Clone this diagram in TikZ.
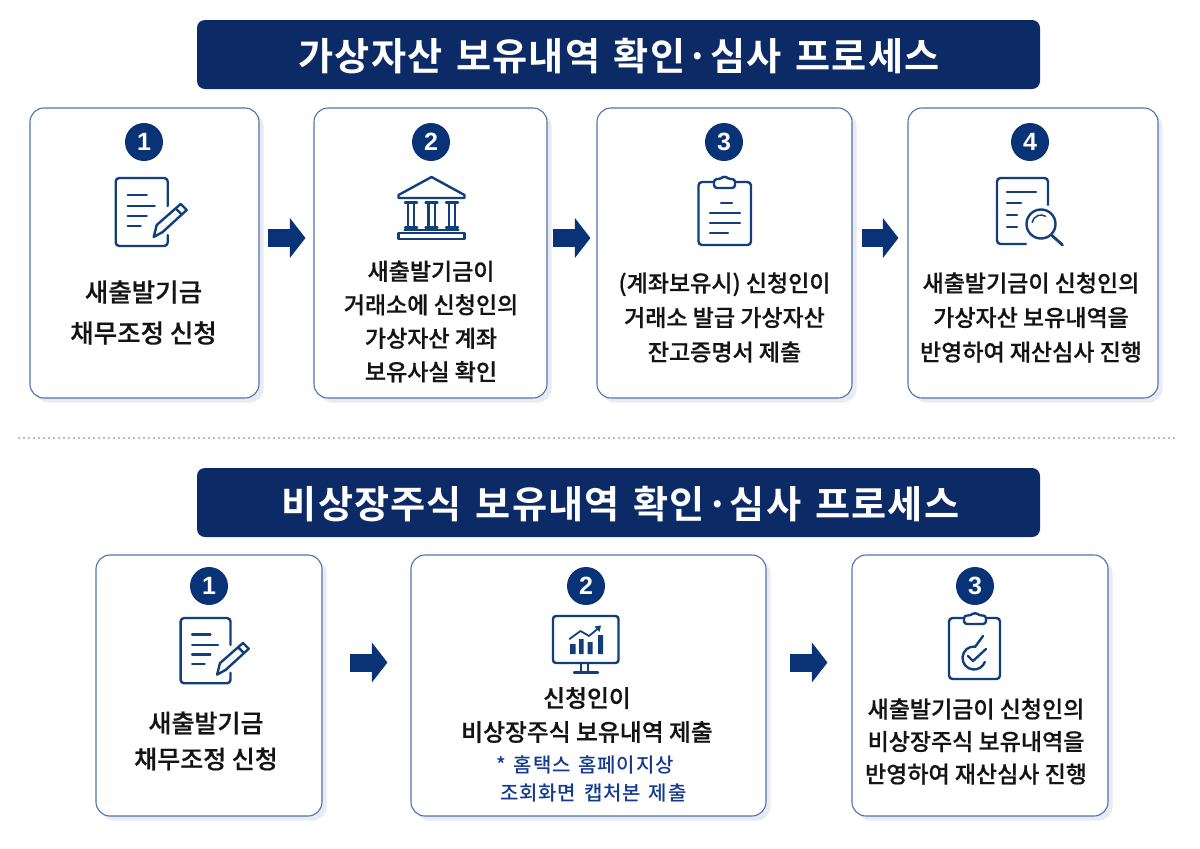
\documentclass[tikz,border=0pt]{standalone}
\usepackage{fontspec}
\setmainfont{Noto Sans CJK KR}
\newfontfamily\medf[FakeBold=0.5]{Noto Sans CJK KR Medium}
\newfontfamily\notef[LetterSpace=4,WordSpace=1.5]{Noto Sans CJK KR Medium}
\newfontfamily\titf[LetterSpace=3,WordSpace=1.4]{Noto Sans CJK KR Bold}
\newfontfamily\numf{Liberation Sans}
\usetikzlibrary{shadows,arrows.meta,calc}
\definecolor{navy}{HTML}{0B2A66}
\definecolor{circ}{HTML}{0A3277}
\definecolor{edgeb}{HTML}{4F72B4}
\definecolor{shad}{HTML}{E9EBF1}
\definecolor{icon}{HTML}{123F7C}
\definecolor{bluet}{HTML}{14398F}
\definecolor{inkt}{HTML}{141414}
\definecolor{sepc}{HTML}{B9BCC2}
\tikzset{
  x=1pt,y=-1pt,
  card/.style={draw=edgeb,line width=1.1pt,fill=white,rounded corners=14pt,inner sep=0pt,
    drop shadow={shadow xshift=4.5pt,shadow yshift=-4.5pt,fill=shad,opacity=1}},
  titlebar/.style={fill=navy,rounded corners=8pt,inner sep=0pt,minimum width=843pt,minimum height=69pt,
    text=white,text depth=0pt,font=\titf\fontsize{38.2}{44}\selectfont},
  titletxt/.style={text=white,inner sep=0pt,font=\titf\fontsize{38.2}{44}\selectfont},
  badge/.style={circle,fill=circ,minimum size=38pt,inner sep=0pt,text=white,font=\numf\fontsize{25}{28}\bfseries\selectfont},
  bigtxt/.style={align=center,text=inkt,inner sep=0pt,font=\medf\fontsize{25.5}{41}\selectfont},
  smalbig/.style={align=center,text=inkt,inner sep=0pt,font=\medf\fontsize{25}{36}\selectfont},
  midtxt/.style={align=center,text=inkt,inner sep=0pt,font=\medf\fontsize{23}{33.5}\selectfont},
  widetxt/.style={align=center,text=inkt,inner sep=0pt,font=\medf\fontsize{23.8}{34}\selectfont},
  notetxt/.style={align=left,text=bluet,inner sep=0pt,font=\notef\fontsize{20}{28}\selectfont},
  blockarrow/.style={draw=circ,line width=18pt,-{Triangle[length=15.5pt,width=39pt]}},
  ico/.style={draw=icon,line width=2.4pt,line cap=round,line join=round},
  docpen/.pic={
    \draw[ico,rounded corners=3.5pt] (52,28)--(52,0)--(0,0)--(0,68)--(52,68)--(52,57);
    \draw[ico] (12,17)--(31,17) (12,28)--(39,28) (12,38)--(31,38) (12,48)--(25,48);
    \draw[ico,fill=white] (38,59)--(41,47)--(65,26)--(71,32)--(47,54)--cycle;
    \draw[ico] (60,30.5)--(66,36.5);
  },
  bankicon/.pic={
    \draw[ico] (0,-19)--(-33,-1)--(-33,2)--(33,2)--(33,-1)--cycle;
    \foreach \c in {-20.5,0,20.5}{
      \draw[ico] (\c-3.2,8)--(\c-3.2,30) (\c+3.2,8)--(\c+3.2,30);
      \draw[ico] (\c-6,6.5)--(\c+6,6.5) (\c-6,31.5)--(\c+6,31.5);
    }
    \draw[ico] (-27,34)--(27,34);
    \draw[ico] (-33,37)--(33,37)--(33,43)--(-33,43)--cycle;
  },
  clipicon/.pic={
    \draw[ico,rounded corners=3.5pt] (714,182)--(698.5,182)--(698.5,245)--(751,245)--(751,182)--(735,182);
    \draw[ico,rounded corners=3pt,fill=white] (714,188)--(714,179)--(721,179)--(724.5,175.5)--(728,179)--(735,179)--(735,188)--cycle;
    \draw[ico] (721,203)--(732,203) (710,213)--(740,213) (710,223)--(740,223) (710,233)--(728,233);
  },
  lensicon/.pic={
    \draw[ico,rounded corners=3.5pt] (1048,205)--(1048,178)--(997,178)--(997,244)--(1026,244);
    \draw[ico] (1007,192)--(1036,192) (1007,203)--(1021,203) (1007,215)--(1017,215) (1007,227)--(1017,227);
    \draw[ico] (1041,224) circle[radius=14.5];
    \draw[ico,line width=1.5pt] (1041,224) ++(-170:9) arc[start angle=-170,end angle=-60,radius=9];
    \draw[ico,line width=2.8pt] (1052,235.5)--(1062.5,245);
  },
  monicon/.pic={
    \draw[ico,rounded corners=3pt] (553,616)--(618.5,616)--(618.5,663)--(553,663)--cycle;
    \draw[ico] (581,663)--(581,672) (588,663)--(588,672) (574,672.5)--(598,672.5);
    \fill[icon] (570,644) rectangle (575.5,654) (579,639) rectangle (583.5,654)
      (587.5,642) rectangle (592.5,654) (598,635) rectangle (603,654);
    \draw[ico,line width=1.8pt] (569.5,639)--(580.5,631)--(589,636)--(598,628.5);
    \fill[icon] (601,625.5)--(594.5,626.5)--(599.5,632)--cycle;
  },
  checkicon/.pic={
    \draw[ico,rounded corners=3.5pt] (964,618)--(949,618)--(949,679)--(1000,679)--(1000,618)--(986,618);
    \draw[ico,rounded corners=3pt,fill=white] (964,624)--(964,615.5)--(971,615.5)--(975,612)--(979,615.5)--(986,615.5)--(986,624)--cycle;
    \draw[ico] (974,658) ++(-85:11.5) arc[start angle=-85,end angle=-340,radius=11.5];
    \draw[ico] (968,656)--(973,661)--(986,649);
    \draw[ico] (975,647)--(983,636);
  },
}
\begin{document}
\begin{tikzpicture}
\useasboundingbox (0,0) rectangle (1200,849);
\fill[white] (0,0) rectangle (1200,849);
% titles
\node[titlebar,text opacity=0] (t1) at (618.5,54.5) {};
\node[titlebar,text opacity=0] (t2) at (618.5,502.5) {};
\node[titletxt] (tt1) at (619,56.5) {가상자산 보유내역 확인·심사 프로세스};
\node[titletxt] (tt2) at (620.5,504.5) {비상장주식 보유내역 확인·심사 프로세스};
% top cards
\node[card,minimum width=229pt,minimum height=290pt] (a1) at (144.5,253) {};
\node[card,minimum width=233pt,minimum height=290pt] (a2) at (430.5,253) {};
\node[card,minimum width=255pt,minimum height=290pt] (a3) at (724.5,253) {};
\node[card,minimum width=250pt,minimum height=290pt] (a4) at (1033,253) {};
% bottom cards
\node[card,minimum width=226pt,minimum height=261pt] (b1) at (209,685.5) {};
\node[card,minimum width=355pt,minimum height=261pt] (b2) at (588.5,685.5) {};
\node[card,minimum width=256pt,minimum height=261pt] (b3) at (980,685.5) {};
% separator
\coordinate (sepl) at (18,438);
\coordinate (sepr) at (1178,438);
\draw[draw=sepc,line width=2pt,dash pattern=on 2pt off 3pt] (sepl)--(sepr);
% badges
\node[badge] (n1) at (144,142) {1};
\node[badge] (n2) at (431,142) {2};
\node[badge] (n3) at (724,142) {3};
\node[badge] (n4) at (1030,142) {4};
\node[badge] (m1) at (209,586) {1};
\node[badge] (m2) at (586,586) {2};
\node[badge] (m3) at (975,586) {3};
% icons
\pic at (115.7,178) {docpen};
\pic at (431.5,196) {bankicon};
\pic at (0,0) {clipicon};
\pic at (0,0) {lensicon};
\pic[scale=.96] at (180.6,618) {docpen};
\pic at (0,0) {monicon};
\pic at (0,0) {checkicon};
% texts
\node[bigtxt] (ta1) at (143.5,312.5) {새출발기금\\채무조정 신청};
\node[midtxt] (ta2) at (431,321.5) {새출발기금이\\거래소에 신청인의\\가상자산 계좌\\보유사실 확인};
\node[midtxt,font=\medf\fontsize{23}{34.5}\selectfont] (ta3) at (724.5,317.5) {(계좌보유시) 신청인이\\거래소 발급 가상자산\\잔고증명서 제출};
\node[midtxt,font=\medf\fontsize{23}{34.5}\selectfont] (ta4) at (1031,317.5) {새출발기금이 신청인의\\가상자산 보유내역을\\반영하여 재산심사 진행};
\node[smalbig] (tb1) at (206,741) {새출발기금\\채무조정 신청};
\node[widetxt] (tb2) at (587,715) {신청인이\\비상장주식 보유내역 제출};
\node[notetxt,anchor=west] (tb2n) at (496,778.5) {* 홈택스 홈페이지상\\\hspace*{4pt}조회화면 캡처본 제출};
\node[midtxt,font=\medf\fontsize{23}{32.5}\selectfont] (tb3) at (976,741.5) {새출발기금이 신청인의\\비상장주식 보유내역을\\반영하여 재산심사 진행};
% arrows
\coordinate (ya) at (0,238);
\coordinate (yb) at (0,662.5);
\draw[blockarrow,shorten <=8pt,shorten >=8pt] (a1.east |- ya) -- (a2.west |- ya);
\draw[blockarrow,shorten <=5pt,shorten >=6pt] (a2.east |- ya) -- (a3.west |- ya);
\draw[blockarrow,shorten <=9pt,shorten >=9pt] (a3.east |- ya) -- (a4.west |- ya);
\draw[blockarrow,shorten <=27pt,shorten >=23pt] (b1.east |- yb) -- (b2.west |- yb);
\draw[blockarrow,shorten <=23pt,shorten >=24pt] (b2.east |- yb) -- (b3.west |- yb);
\end{tikzpicture}
\end{document}
